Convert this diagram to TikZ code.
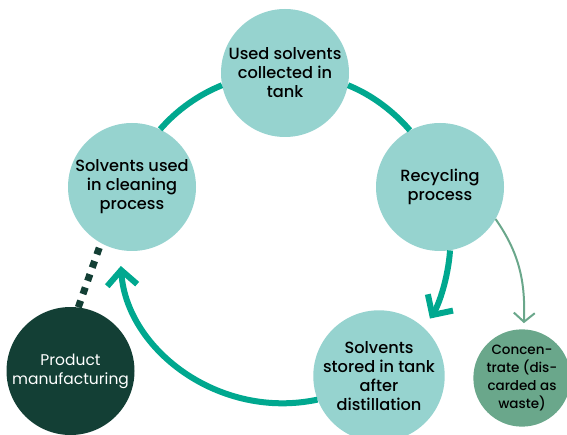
\documentclass[tikz,border=0pt]{standalone}
\usepackage{fontspec}
\setmainfont{Poppins Medium}
\newfontfamily\lightfont{Poppins}
\usepackage{tikz}
\usetikzlibrary{arrows.meta}
\definecolor{cycle-light}{HTML}{96D3CF}
\definecolor{cycle-teal}{HTML}{00A88F}
\definecolor{cycle-dark}{HTML}{133F35}
\definecolor{cycle-waste}{HTML}{6AA78B}

\begin{document}
\begin{tikzpicture}[x=1pt, y=1pt,
    stage/.style={circle, fill=cycle-light, minimum size=128pt, inner sep=0pt,
      align=center, font=\fontsize{16.2}{19}\selectfont},
    ring/.style={line width=6pt, cycle-teal},
    ringarrow/.style={ring, -{Straight Barb[sharp, length=15pt, width=30pt]}},
    wastearrow/.style={line width=2pt, cycle-waste, -{Straight Barb[sharp, length=9pt, width=21pt]}},
    dots/.style={line width=7pt, cycle-dark, dash pattern=on 7pt off 7pt}]
\useasboundingbox (0,0) rectangle (567,434);
% the four stages of the loop
\node[stage] (tank) at (285,361) {Used solvents\\collected in\\tank};
\node[stage] (clean) at (132,247) {Solvents used\\in cleaning\\process};
\node[stage] (recyc) at (440,247) {Recycling\\process};
\node[stage] (stored) at (379,58) {Solvents\\stored in tank\\after\\distillation};
% outside the loop
\node[stage, fill=cycle-dark, text=white, font=\lightfont\fontsize{15.5}{19}\selectfont] (product) at (70.5,63) {Product\\manufacturing};
\node[stage, fill=cycle-waste, minimum size=92pt, font=\fontsize{13.5}{18.3}\selectfont] (waste) at (522,56) {Concen-\\trate (dis-\\carded as\\waste)};
\draw
  (tank.191) edge[ring, out=202, in=49, looseness=0.86] (clean.64)
  (tank.349) edge[ring, out=-22, in=131, looseness=0.86] (recyc.118)
  (recyc.-81) edge[ringarrow, out=-94, in=57, looseness=0.86, shorten >=11pt] (stored.47)
  (stored.201) edge[ringarrow, out=192, in=-86, looseness=1.03, shorten >=16pt] (clean.259.5)
  (recyc.-30) edge[wastearrow, out=-55, in=88, shorten >=6pt] (waste.88)
  (product.83) edge[dots] (clean.241);
\end{tikzpicture}
\end{document}
